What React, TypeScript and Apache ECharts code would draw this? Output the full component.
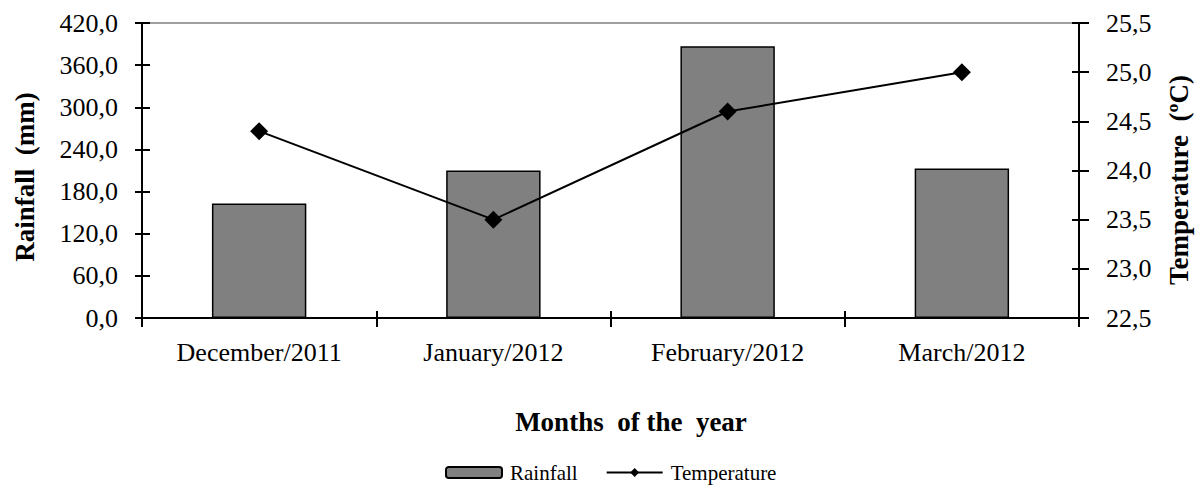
import React, { useEffect, useRef } from "react";
import * as echarts from "echarts";

const months = ["December/2011", "January/2012", "February/2012", "March/2012"];
const rainfall = [163, 210, 387, 213];
const temperature = [24.4, 23.5, 24.6, 25.0];
const rainTicks = { min: 0, max: 420, interval: 60 };
const tempTicks = { min: 22.5, max: 25.5, interval: 0.5 };

const FONT = "'Liberation Serif', 'Times New Roman', serif";

export default function App() {
  const ref = useRef<HTMLDivElement>(null);
  useEffect(() => {
    document.body.style.margin = "0";
    if (!ref.current) return;
    const chart = echarts.init(ref.current, undefined, { renderer: "svg" });
    const fmt = (v: number) => v.toFixed(1).replace(".", ",");
    const noLine = { show: false };
    chart.setOption({
      animation: false,
      backgroundColor: "#fff",
      textStyle: { fontFamily: FONT, color: "#000" },
      grid: { left: 142, right: 121, top: 23, bottom: 170, containLabel: false },
      legend: {
        left: 440,
        top: 457,
        itemWidth: 56,
        itemHeight: 11,
        itemGap: 28,
        textStyle: { fontFamily: FONT, fontSize: 21, color: "#000", padding: [0, 0, 0, 3] },
        data: ["Rainfall", "Temperature"],
      },
      xAxis: [
        {
          type: "category",
          position: "bottom",
          data: months,
          axisLine: { show: true, lineStyle: { color: "#000", width: 2 } },
          axisTick: { show: true, length: 9, lineStyle: { color: "#000", width: 2 } },
          axisLabel: { fontFamily: FONT, fontSize: 26, color: "#000", margin: 21 },
          splitLine: { show: false },
        },
        {
          type: "category",
          position: "bottom",
          data: months,
          axisLine: noLine,
          axisTick: { show: true, inside: true, length: 7, lineStyle: { color: "#000", width: 2 } },
          axisLabel: { show: false },
          splitLine: { show: false },
        },
        {
          type: "category",
          position: "top",
          data: months,
          axisLine: { show: true, lineStyle: { color: "#808080", width: 1.5 } },
          axisTick: { show: false },
          axisLabel: { show: false },
          splitLine: { show: false },
        },
      ],
      yAxis: [
        {
          type: "value",
          position: "left",
          ...rainTicks,
          axisLine: { show: true, lineStyle: { color: "#000", width: 2 } },
          axisTick: { show: true, length: 7, lineStyle: { color: "#000", width: 2 } },
          axisLabel: { fontFamily: FONT, fontSize: 26, color: "#000", margin: 24, formatter: fmt },
          splitLine: { show: false },
        },
        {
          type: "value",
          position: "right",
          ...tempTicks,
          axisLine: { show: true, lineStyle: { color: "#000", width: 2 } },
          axisTick: { show: true, length: 10, lineStyle: { color: "#000", width: 2 } },
          axisLabel: { fontFamily: FONT, fontSize: 26, color: "#000", margin: 27, formatter: fmt },
          splitLine: { show: false },
        },
        {
          type: "value",
          position: "left",
          ...rainTicks,
          axisLine: noLine,
          axisTick: { show: true, inside: true, length: 8, lineStyle: { color: "#000", width: 2 } },
          axisLabel: { show: false },
          splitLine: { show: false },
        },
        {
          type: "value",
          position: "right",
          ...tempTicks,
          axisLine: noLine,
          axisTick: { show: true, inside: true, length: 7, lineStyle: { color: "#000", width: 2 } },
          axisLabel: { show: false },
          splitLine: { show: false },
        },
      ],
      graphic: [
        {
          type: "text",
          x: 25,
          y: 177,
          rotation: Math.PI / 2,
          style: {
            text: "Rainfall  (mm)",
            fontFamily: FONT,
            fontSize: 27,
            fontWeight: "bold",
            fill: "#000",
            align: "center",
            verticalAlign: "middle",
          },
        },
        {
          type: "text",
          x: 1179,
          y: 180,
          rotation: Math.PI / 2,
          style: {
            text: "Temperature  (ºC)",
            fontFamily: FONT,
            fontSize: 27,
            fontWeight: "bold",
            fill: "#000",
            align: "center",
            verticalAlign: "middle",
          },
        },
        {
          type: "text",
          x: 631,
          y: 422,
          style: {
            text: "Months  of the  year",
            fontFamily: FONT,
            fontSize: 27,
            fontWeight: "bold",
            fill: "#000",
            align: "center",
            verticalAlign: "middle",
          },
        },
      ],
      series: [
        {
          name: "Rainfall",
          type: "bar",
          xAxisIndex: 0,
          yAxisIndex: 0,
          data: rainfall,
          barWidth: "40.3%",
          itemStyle: { color: "#808080", borderColor: "#000", borderWidth: 1.5 },
          z: 2,
        },
        {
          name: "Temperature",
          type: "line",
          xAxisIndex: 0,
          yAxisIndex: 1,
          data: temperature,
          symbol: "diamond",
          symbolSize: 18,
          itemStyle: { color: "#000" },
          lineStyle: { color: "#000", width: 2 },
          z: 3,
        },
      ],
    });
    return () => chart.dispose();
  }, []);
  return <div ref={ref} style={{ width: 1200, height: 488 }} />;
}
